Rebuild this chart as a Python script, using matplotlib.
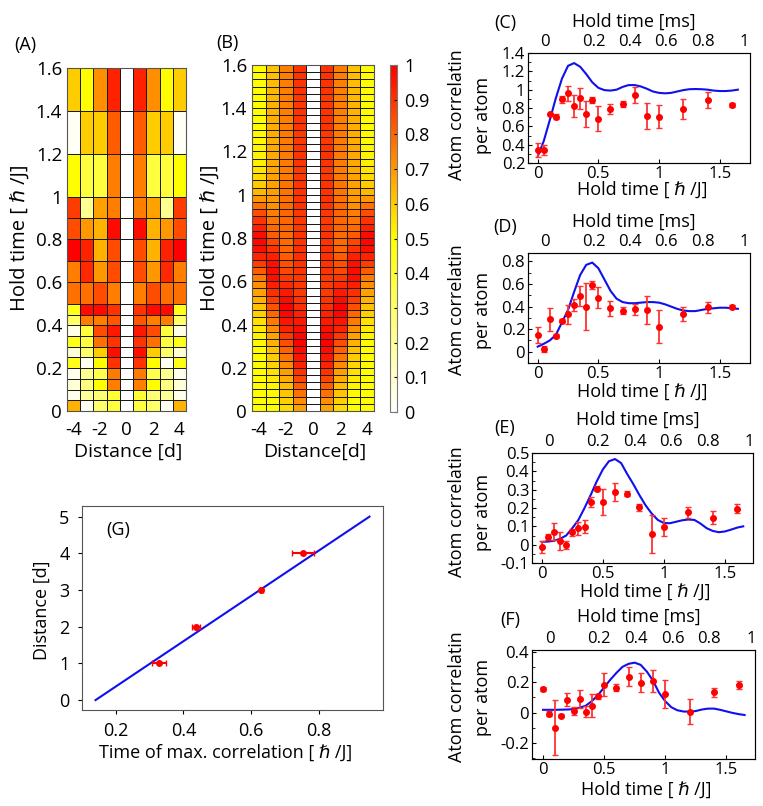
import numpy as np
import matplotlib
matplotlib.use("Agg")
import matplotlib.pyplot as plt
from matplotlib.colors import LinearSegmentedColormap
from matplotlib.ticker import FormatStrFormatter, MultipleLocator

plt.rcParams['font.family'] = ['Open Sans', 'DejaVu Sans']
plt.rcParams['axes.unicode_minus'] = False

W, H = 763, 806
HBAR_LABEL = 'Hold time [ \u210f /J]'

# ---------------- data ----------------
# (A) measured correlations, rows = hold-time bins (bottom -> top), one list per distance
a_edges = [0, 0.05, 0.1, 0.15, 0.2, 0.25, 0.3, 0.35, 0.4, 0.45, 0.5,
           0.6, 0.7, 0.8, 0.9, 1.0, 1.2, 1.4, 1.6]
a_d1 = [0.38, 0.40, 0.75, 0.76, 0.90, 0.97, 0.90, 0.95, 0.83, 0.90,
        0.75, 0.85, 0.85, 0.98, 0.75, 0.75, 0.82, 0.93]
a_d2 = [0.30, 0.27, 0.50, 0.35, 0.50, 0.60, 0.78, 0.85, 0.75, 0.98,
        0.85, 0.70, 0.65, 0.65, 0.68, 0.38, 0.60, 0.72]
a_d3 = [0.03, 0.20, 0.25, 0.22, 0.03, 0.30, 0.38, 0.38, 0.75, 0.98,
        0.78, 0.92, 0.93, 0.70, 0.22, 0.38, 0.60, 0.50]
a_d4 = [0.65, 0.04, 0.08, 0.04, 0.45, 0.08, 0.45, 0.05, 0.30, 0.45,
        0.78, 0.75, 1.00, 0.85, 0.88, 0.50, 0.02, 0.60]

# (B) theory, 48 equal hold-time rows from 0 to 1.6 (bottom -> top)
b_d1 = [0.68, 0.72, 0.78, 0.82, 0.86, 0.90, 0.93, 0.96, 0.98, 1.00,
        0.99, 0.97, 0.95, 0.93, 0.91, 0.90, 0.89, 0.89, 0.89, 0.90,
        0.90, 0.91, 0.91, 0.90, 0.90, 0.89, 0.89, 0.89, 0.90, 0.90,
        0.90, 0.90, 0.89, 0.89, 0.90, 0.90, 0.90, 0.89, 0.89, 0.90,
        0.90, 0.90, 0.89, 0.89, 0.90, 0.90, 0.90, 0.90]
b_d2 = [0.57, 0.59, 0.61, 0.63, 0.66, 0.69, 0.73, 0.77, 0.81, 0.85,
        0.89, 0.93, 0.96, 0.99, 1.00, 0.98, 0.95, 0.92, 0.89, 0.86,
        0.84, 0.82, 0.80, 0.79, 0.79, 0.80, 0.80, 0.80, 0.79, 0.78,
        0.77, 0.77, 0.76, 0.76, 0.76, 0.76, 0.76, 0.76, 0.76, 0.75,
        0.75, 0.75, 0.75, 0.75, 0.75, 0.75, 0.75, 0.75]
b_d3 = [0.50, 0.50, 0.51, 0.52, 0.54, 0.56, 0.58, 0.60, 0.62, 0.65,
        0.68, 0.72, 0.76, 0.80, 0.84, 0.88, 0.91, 0.94, 0.97, 0.98,
        0.97, 0.94, 0.90, 0.86, 0.82, 0.79, 0.77, 0.75, 0.72, 0.70,
        0.69, 0.68, 0.68, 0.67, 0.67, 0.67, 0.67, 0.66, 0.66, 0.66,
        0.66, 0.65, 0.65, 0.64, 0.64, 0.63, 0.63, 0.62]
b_d4 = [0.50, 0.50, 0.50, 0.50, 0.50, 0.50, 0.50, 0.50, 0.50, 0.51,
        0.52, 0.54, 0.56, 0.59, 0.62, 0.65, 0.68, 0.72, 0.76, 0.82,
        0.88, 0.93, 0.97, 0.99, 0.98, 0.94, 0.90, 0.85, 0.78, 0.70,
        0.64, 0.60, 0.57, 0.55, 0.53, 0.52, 0.52, 0.51, 0.51, 0.50,
        0.50, 0.50, 0.50, 0.50, 0.50, 0.50, 0.50, 0.50]

# (C)-(F) measured points
t_data = [0, 0.05, 0.1, 0.15, 0.2, 0.25, 0.3, 0.35, 0.4, 0.45, 0.5,
          0.6, 0.7, 0.8, 0.9, 1.0, 1.2, 1.4, 1.6]
c_y = [0.34, 0.34, 0.73, 0.705, 0.895, 0.96, 0.82, 0.905, 0.735, 0.89,
       0.685, 0.79, 0.845, 0.945, 0.715, 0.705, 0.785, 0.89, 0.835]
c_err = [0.075, 0.055, 0.01, 0.03, 0.035, 0.08, 0.12, 0.115, 0.145, 0.035,
         0.135, 0.055, 0.035, 0.085, 0.145, 0.125, 0.11, 0.09, 0.025]
d_y = [0.148, 0.024, 0.287, 0.139, 0.276, 0.33, 0.415, 0.495, 0.40, 0.593,
       0.48, 0.385, 0.364, 0.376, 0.37, 0.222, 0.335, 0.394, 0.40]
d_err = [0.074, 0.025, 0.10, 0.015, 0.01, 0.087, 0.052, 0.089, 0.207, 0.037,
         0.093, 0.064, 0.03, 0.047, 0.12, 0.148, 0.06, 0.049, 0.015]
e_y = [-0.012, 0.041, 0.071, 0.021, -0.003, 0.067, 0.089, 0.098, 0.233, 0.305,
       0.235, 0.286, 0.279, 0.203, 0.056, 0.095, 0.176, 0.148, 0.196]
e_err = [0.033, 0.017, 0.046, 0.05, 0.022, 0.017, 0.034, 0.037, 0.025, 0.013,
         0.071, 0.05, 0.014, 0.021, 0.104, 0.049, 0.03, 0.037, 0.025]
f_y = [0.154, -0.008, -0.10, -0.021, 0.084, 0.012, 0.088, 0.007, 0.044, 0.106,
       0.182, 0.164, 0.236, 0.197, 0.208, 0.121, 0.007, 0.132, 0.182]
f_err = [0.015, 0.016, 0.18, 0.011, 0.044, 0.027, 0.058, 0.037, 0.076, 0.015,
         0.076, 0.025, 0.061, 0.06, 0.07, 0.09, 0.084, 0.03, 0.027]

# (C)-(F) theory curves
t_curve = [0, 0.05, 0.1, 0.15, 0.2, 0.25, 0.3, 0.35, 0.4, 0.45, 0.5, 0.55,
           0.6, 0.65, 0.7, 0.75, 0.8, 0.85, 0.9, 0.95, 1.0, 1.05, 1.1, 1.15,
           1.2, 1.25, 1.3, 1.35, 1.4, 1.45, 1.5, 1.55, 1.6, 1.65]
c_curve = [0.27, 0.44, 0.67, 0.91, 1.12, 1.26, 1.29, 1.25, 1.17, 1.08, 1.02, 0.995,
           0.99, 1.0, 1.03, 1.05, 1.05, 1.035, 1.01, 0.98, 0.965, 0.96, 0.965, 0.98,
           0.995, 1.005, 1.007, 1.005, 1.0, 0.99, 0.985, 0.985, 0.99, 1.0]
d_curve = [0.045, 0.07, 0.10, 0.15, 0.26, 0.37, 0.53, 0.68, 0.77, 0.79, 0.74, 0.64,
           0.54, 0.47, 0.44, 0.43, 0.43, 0.435, 0.44, 0.44, 0.435, 0.42, 0.40, 0.38,
           0.365, 0.36, 0.36, 0.37, 0.38, 0.385, 0.39, 0.39, 0.385, 0.38]
e_curve = [0.015, 0.017, 0.021, 0.032, 0.05, 0.09, 0.135, 0.2, 0.27, 0.345, 0.41, 0.455,
           0.467, 0.445, 0.385, 0.33, 0.27, 0.215, 0.17, 0.135, 0.118, 0.117, 0.125, 0.133,
           0.137, 0.135, 0.115, 0.09, 0.075, 0.068, 0.072, 0.082, 0.093, 0.1]
f_curve = [0.018, 0.018, 0.018, 0.019, 0.02, 0.023, 0.032, 0.045, 0.075, 0.115, 0.165, 0.215,
           0.26, 0.3, 0.32, 0.328, 0.313, 0.269, 0.21, 0.13, 0.075, 0.035, 0.015, 0.007,
           0.006, 0.01, 0.02, 0.026, 0.026, 0.018, 0.008, -0.002, -0.01, -0.016]

ms_labels = ['0', '0.2', '0.4', '0.6', '0.8', '1']
ms_pos = [0.06, 0.46, 0.76, 1.06, 1.36, 1.70]   # where the ms labels sit on the hbar/J axis

# (G)
g_t = [0.327, 0.438, 0.63, 0.753]
g_d = [1, 2, 3, 4]
g_terr = [0.02, 0.012, 0.005, 0.032]
fit_t = [0.14, 0.95]
fit_d = [0, 5]

# ---------------- figure ----------------
fig = plt.figure(figsize=(W / 100, H / 100), dpi=100)


def box(l, t, r, b):
    return fig.add_axes([l / W, 1 - b / H, (r - l) / W, (b - t) / H])


def put(x, y, s, size=13, rot=0, **kw):
    fig.text(x / W, 1 - y / H, s, ha='center', va='center', fontsize=size,
             rotation=rot, **kw)


def gray_spines(ax):
    for sp in ax.spines.values():
        sp.set_color('#555555')
        sp.set_linewidth(0.8)


def mirror(d1, d2, d3, d4):
    d1, d2, d3, d4 = (np.asarray(v) for v in (d1, d2, d3, d4))
    return np.column_stack([d4, d3, d2, d1, np.zeros_like(d1), d1, d2, d3, d4])


cmap = LinearSegmentedColormap.from_list('wyr', ['white', 'yellow', 'red'])
x_edges = np.arange(-4.5, 5.0, 1.0)

axA = box(67, 68, 186, 411)
axB = box(252, 65, 374, 411)
heat = [(axA, a_edges, mirror(a_d1, a_d2, a_d3, a_d4)),
        (axB, np.linspace(0, 1.6, 49), mirror(b_d1, b_d2, b_d3, b_d4))]
for ax, edges, grid in heat:
    mesh = ax.pcolormesh(x_edges, edges, grid, cmap=cmap, vmin=0, vmax=1,
                         edgecolors='#1a1a1a', linewidth=0.6)
    ax.set_xlim(-4.5, 4.5)
    ax.set_ylim(0, 1.6)
    ax.set_xticks([-4, -2, 0, 2, 4])
    ax.set_yticks(np.arange(0, 1.61, 0.2))
    ax.yaxis.set_major_formatter(FormatStrFormatter('%g'))
    ax.tick_params(labelsize=13.5, length=0)
    ax.tick_params(axis='x', pad=7)
    gray_spines(ax)

cax = box(390, 65, 397, 412)
cb = fig.colorbar(mesh, cax=cax, ticks=np.arange(0, 1.01, 0.1))
cb.ax.yaxis.set_major_formatter(FormatStrFormatter('%g'))
cb.ax.tick_params(labelsize=13, length=2, direction='in', pad=5)
cb.outline.set_edgecolor('#777777')

put(25, 45, '(A)')
put(227, 43, '(B)')
put(20, 238, HBAR_LABEL, size=14.5, rot=90)
put(210, 238, HBAR_LABEL, size=14.5, rot=90)
put(128, 452, 'Distance [d]', size=14)
put(315, 452, 'Distance[d]', size=14)

# ---- (C)-(F) ----
panels = [
    # rect, y, err, curve, ylim, ystep, xlim, letter pos, ms label y, xlabel y, ylabel y
    ((528, 53, 750, 163), c_y, c_err, c_curve, (0.2, 1.4), 0.2, (-0.08, 1.75),
     ('(C)', 505, 23), 22, 190, 115),
    ((528, 253, 750, 363), d_y, d_err, d_curve, (-0.1, 0.875), 0.2, (-0.08, 1.75),
     ('(D)', 505, 227), 222, 392, 310),
    ((532, 453, 753, 563), e_y, e_err, e_curve, (-0.1, 0.5), 0.1, (-0.08, 1.73),
     ('(E)', 505, 428), 420, 592, 512),
    ((532, 650, 755, 759), f_y, f_err, f_curve, (-0.305, 0.411), 0.2, (-0.09, 1.735),
     ('(F)', 510, 620), 617, 790, 697),
]
for rect, yv, ev, cv, ylim, ystep, xlim, letter, ms_y, xl_y, yl_y in panels:
    ax = box(*rect)
    ax.plot(t_curve, cv, color='#1010ee', lw=1.5, zorder=2)
    ax.errorbar(t_data, yv, yerr=ev, fmt='o', color='red', ecolor='#ff3333',
                ms=4, elinewidth=1.3, capsize=2, capthick=1, zorder=3)
    ax.set_xlim(*xlim)
    ax.set_ylim(*ylim)
    ax.set_xticks([0, 0.5, 1, 1.5])
    ax.xaxis.set_major_formatter(FormatStrFormatter('%g'))
    ax.yaxis.set_major_locator(MultipleLocator(ystep))
    ax.yaxis.set_minor_locator(MultipleLocator(ystep / 2))
    ax.yaxis.set_major_formatter(FormatStrFormatter('%g'))
    ax.tick_params(labelsize=12, direction='in', length=3, pad=2)
    ax.tick_params(which='minor', direction='in', length=2)
    gray_spines(ax)
    top = ax.twiny()
    top.set_xlim(*xlim)
    top.set_xticks(ms_pos)
    top.set_xticklabels(ms_labels)
    top.tick_params(labelsize=12, length=0, pad=2)
    l, t, r, b = rect
    put(letter[1], letter[2], letter[0], size=13)
    put((l + r) / 2 - 5, ms_y, 'Hold time [ms]', size=13)
    put((l + r) / 2 + 3, xl_y, HBAR_LABEL, size=13)
    put(470, yl_y, 'Atom correlatin\nper atom', size=13, rot=90, linespacing=1.5)

# ---- (G) ----
axG = box(82, 506, 383, 710)
axG.plot(fit_t, fit_d, color='#1010ee', lw=1.5)
axG.errorbar(g_t, g_d, xerr=g_terr, fmt='o', color='red', ecolor='red',
             ms=4, elinewidth=1.5, capsize=2, capthick=1)
axG.set_xlim(0.1, 0.99)
axG.set_ylim(-0.27, 5.29)
axG.set_xticks([0.2, 0.4, 0.6, 0.8])
axG.set_yticks([0, 1, 2, 3, 4, 5])
axG.xaxis.set_major_formatter(FormatStrFormatter('%g'))
axG.tick_params(labelsize=13, length=3, direction='out', pad=6)
gray_spines(axG)
axG.text(0.12, 0.88, '(G)', transform=axG.transAxes, ha='center', va='center',
         fontsize=13)
put(226, 753, 'Time of max. correlation [ \u210f /J]', size=13)
put(42, 610, 'Distance [d]', size=13, rot=90)

fig.savefig('out.png', dpi=100)
